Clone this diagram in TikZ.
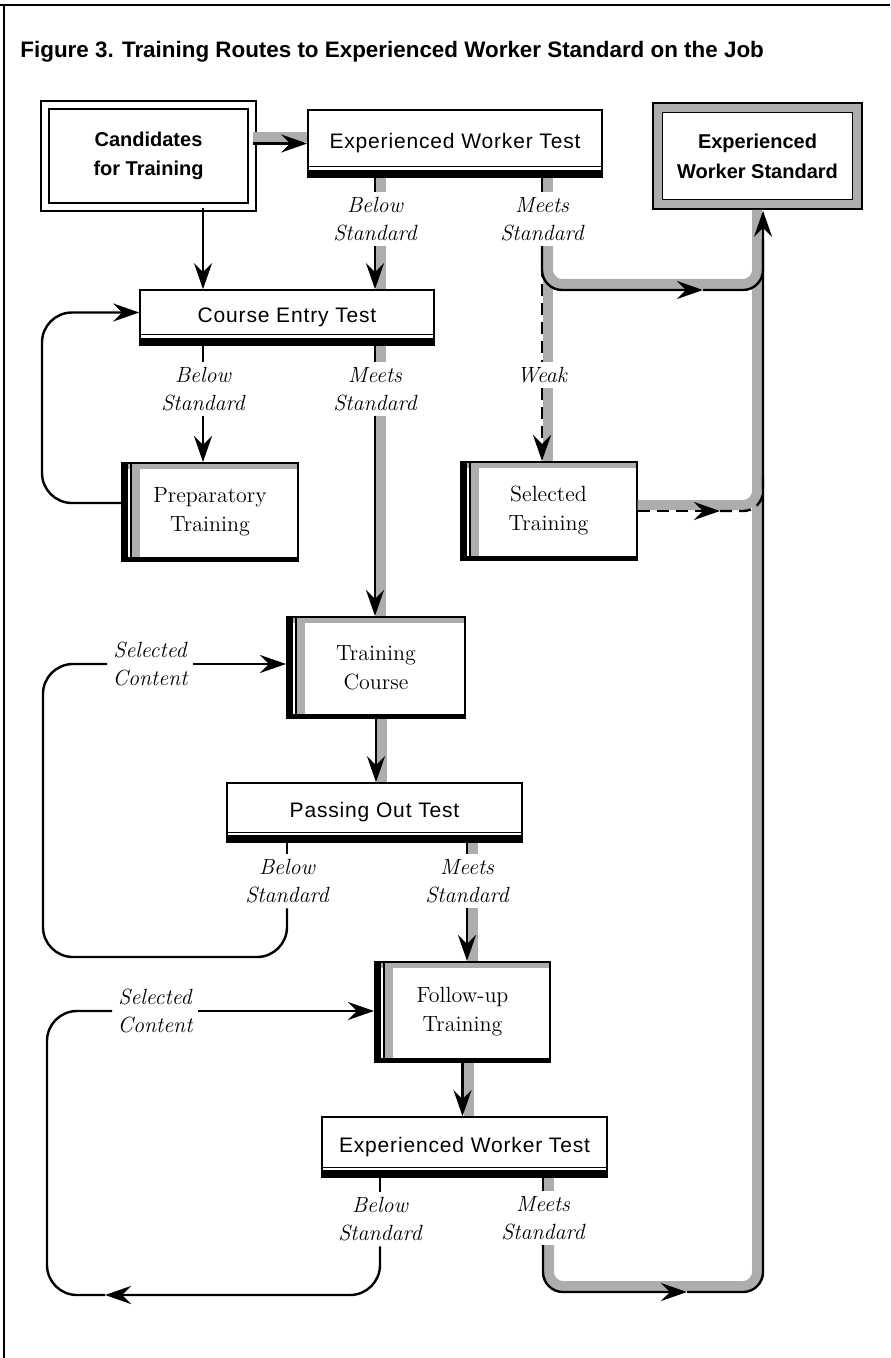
\documentclass[tikz,border=0pt]{standalone}
\usepackage{fontspec}
\setsansfont{Liberation Sans}
\usetikzlibrary{arrows.meta, calc}
\colorlet{stipple}{black!32}

\begin{document}
\begin{tikzpicture}[x=0.5pt, y=-0.5pt,
    link/.style={line width=1.2pt},
    flow/.style={link, -{Stealth[length=13pt, width=9pt, inset=4.5pt]}},
    weakline/.style={dash pattern=on 6pt off 3.5pt},
    band/.style={draw=stipple, line width=5pt},
    bandR/.style={band, transform canvas={xshift=3pt}},
    bandU/.style={band, transform canvas={yshift=3pt}},
    cond/.style={font=\itshape\fontsize{11}{14}\selectfont, align=center, inner sep=2.5pt},
    startbox/.style={draw, double, double distance=3pt, line width=0.9pt, minimum width=103.7pt, minimum height=51pt, align=center, font=\sffamily\bfseries\fontsize{10}{14.5}\selectfont},
    endbox/.style={draw, fill=white, double=stipple, double distance=4pt, line width=0.8pt, minimum width=99.9pt, minimum height=48.4pt, align=center, font=\sffamily\bfseries\fontsize{10}{15}\selectfont},
    testbox/.style={draw, fill=white, line width=0.8pt, minimum width=147pt, minimum height=31pt, inner sep=0pt,
        font=\sffamily\fontsize{10.5}{13}\selectfont\addfontfeature{LetterSpace=4},
        path picture={
            \coordinate (nw) at (path picture bounding box.north west);
            \coordinate (se) at (path picture bounding box.south east);
            \fill[black] (se) rectangle ([yshift=3.5pt]se -| nw);
            \draw[black, line width=0.5pt] ([yshift=5pt]se) -- ([yshift=5pt]se -| nw);
        }},
    trainbox/.style={draw, fill=white, line width=1pt, minimum width=88pt, minimum height=49pt, align=center,
        font=\fontsize{11}{14.5}\selectfont,
        path picture={
            \coordinate (nw) at (path picture bounding box.north west);
            \coordinate (se) at (path picture bounding box.south east);
            \fill[stipple] (nw) rectangle ([yshift=-3pt]nw -| se);
            \fill[stipple] ([xshift=5pt]nw) rectangle ([xshift=9pt]nw |- se);
            \fill[black] (nw) rectangle ([xshift=3pt]nw |- se);
            \fill[black] ([xshift=4pt]nw) rectangle ([xshift=5pt]nw |- se);
            \fill[black] (se) rectangle ([yshift=2pt]se -| nw);
        }}
]
\useasboundingbox (0,0) rectangle (890,1358);
\draw[line width=1pt] (0,5) -- (890,5);
\draw[line width=1pt] (4,5) -- (4,1358);

\node[anchor=west, inner sep=0pt, font=\sffamily\bfseries\fontsize{11.2}{13}\selectfont] (title) at (20,52)
    {Figure 3. Training Routes to Experienced Worker Standard on the Job};

% boxes
\node[startbox] (cand) at (148.5,156) {Candidates\\for Training};
\node[testbox, minimum height=33.5pt] (ewtA) at (455,143.5) {Experienced Worker Test};
\node[endbox] (ews) at (757.5,156) {Experienced\\Worker Standard};
\node[testbox, minimum height=27.5pt] (cet) at (287,317.5) {Course Entry Test};
\node[trainbox] (prep) at (210,512) {Preparatory\\Training};
\node[trainbox] (sel) at (548.5,511) {Selected\\Training};
\node[trainbox, minimum width=89pt, minimum height=50.5pt] (tc) at (376,667.5) {Training\\Course};
\node[testbox, minimum width=147.5pt, minimum height=29.5pt] (pot) at (374.5,812.5) {Passing Out Test};
\node[trainbox, minimum width=87.5pt, minimum height=50pt] (fu) at (462.5,1012) {Follow-up\\Training};
\node[testbox, minimum width=142.5pt, minimum height=30pt] (ewtB) at (464.5,1147) {Experienced Worker Test};

% outcomes
\node[cond] (ewtAlow) at (375,219) {Below\\Standard};
\node[cond] (ewtAmeet) at (542,219) {Meets\\Standard};
\node[cond] (weak) at (542,375) {Weak};
\node[cond] (cetlow) at (203,389) {Below\\Standard};
\node[cond] (cetmeet) at (375,389) {Meets\\Standard};
\node[cond] (selA) at (150,664) {Selected\\Content};
\node[cond] (potlow) at (287,881) {Below\\Standard};
\node[cond] (potmeet) at (467,881) {Meets\\Standard};
\node[cond] (selB) at (155,1011) {Selected\\Content};
\node[cond] (ewtBlow) at (380,1219) {Below\\Standard};
\node[cond] (ewtBmeet) at (543,1218) {Meets\\Standard};

% shaded main routes
\draw[bandU] (cand.east |- ewtA.west) -- (ewtA.west);
\draw[bandR] (ewtA.south -| ewtAlow) -- (ewtAlow.north);
\draw[bandR] (ewtAlow.south) -- (cet.north -| ewtAlow);
\draw[bandR] (ewtA.south -| ewtAmeet) -- (ewtAmeet.north);
\draw[bandR] (ewtAmeet.south) -- (weak.north);
\draw[bandR] (weak.south) -- (sel.north -| weak);
\draw[bandR] (cet.south -| cetmeet) -- (cetmeet.north);
\draw[bandR] (cetmeet.south) -- (tc.north -| cetmeet);
\draw[bandR] (tc.south) -- (tc.south |- pot.north);
\draw[bandR] (pot.south -| potmeet) -- (potmeet.north);
\draw[bandR] (potmeet.south) -- (fu.north -| potmeet);
\draw[bandR] (fu.south) -- (fu.south |- ewtB.north);
\draw[bandR] (ewtB.south -| ewtBmeet) -- (ewtBmeet.north);
\draw[band, rounded corners=7pt] ($(ewtAmeet.south)+(6,0)$) |- (757,284) -- (757,240);
\draw[band, rounded corners=7pt] ($(sel.east)+(0,-6)$) -| (757,470);
\draw[band, rounded corners=7pt] ($(ewtBmeet.south)+(6,0)$) |- (757,1286) -- (757,210);

% connectors
\draw[flow] (cand.east |- ewtA.west) -- (ewtA.west);
\draw[flow] (cand.south -| cetlow) -- (cet.north -| cetlow);
\draw[link] (ewtA.south -| ewtAlow) -- (ewtAlow.north);
\draw[flow] (ewtAlow.south) -- (cet.north -| ewtAlow);
\draw[link] (ewtA.south -| ewtAmeet) -- (ewtAmeet.north);
\draw[flow, rounded corners=10pt] (ewtAmeet.south) |- (703,290);
\draw[link, rounded corners=10pt] (703,290) -| (763,240);
\draw[link, weakline] (ewtAmeet.south) -- (weak.north);
\draw[flow, weakline] (weak.south) -- (sel.north -| weak);
\draw[flow, weakline] (sel.east) -- (sel.east -| 720,0);
\draw[link, weakline, rounded corners=10pt] (sel.east -| 720,0) -| (763,470);
\draw[link] (cet.south -| cetlow) -- (cetlow.north);
\draw[flow] (cetlow.south) -- (prep.north -| cetlow);
\draw[link] (cet.south -| cetmeet) -- (cetmeet.north);
\draw[flow] (cetmeet.south) -- (tc.north -| cetmeet);
\draw[flow, rounded corners=15pt] ([yshift=4.5pt]prep.west) -| (42,400) |- ([yshift=2.5pt]cet.west);
\draw[flow] (tc.south) -- (tc.south |- pot.north);
\draw[link] (pot.south -| potlow) -- (potlow.north);
\draw[link, rounded corners=15pt] (potlow.south) |- (43,957) |- (selA.west);
\draw[flow] (selA.east) -- (selA.east -| tc.west);
\draw[link] (pot.south -| potmeet) -- (potmeet.north);
\draw[flow] (potmeet.south) -- (fu.north -| potmeet);
\draw[flow] (fu.south) -- (fu.south |- ewtB.north);
\draw[link] (ewtB.south -| ewtBlow) -- (ewtBlow.north);
\draw[flow, rounded corners=15pt] (ewtBlow.south) |- (105,1295);
\draw[link, rounded corners=15pt] (105,1295) -| (47,1100) |- (selB.west);
\draw[flow] (selB.east) -- (selB.east -| fu.west);
\draw[link] (ewtB.south -| ewtBmeet) -- (ewtBmeet.north);
\draw[flow, rounded corners=10pt] (ewtBmeet.south) |- (687,1292);
\draw[flow, rounded corners=10pt, shorten >=2.8pt] (687,1292) -| (ews.south -| 763,0);
\end{tikzpicture}
\end{document}
